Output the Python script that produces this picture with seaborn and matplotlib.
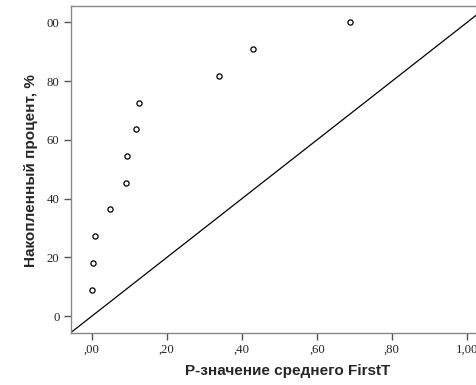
import matplotlib
matplotlib.use("Agg")
import matplotlib.pyplot as plt
import seaborn as sns
import pandas as pd

p_values = [0.000, 0.003, 0.009, 0.049, 0.092, 0.094, 0.119, 0.127, 0.340, 0.429, 0.689]
cum_percent = [9.09, 18.18, 27.27, 36.36, 45.45, 54.55, 63.64, 72.73, 81.82, 90.91, 100.0]
x_ticks = [0.0, 0.2, 0.4, 0.6, 0.8, 1.0]
x_tick_labels = [",00", ",20", ",40", ",60", ",80", "1,00"]
y_ticks = [0, 20, 40, 60, 80, 100]
y_tick_labels = ["0", "20", "40", "60", "80", "00"]
ref_line = [-0.056, 1.056]

df = pd.DataFrame({"p": p_values, "cum": cum_percent})

sns.set_style("white")
fig = plt.figure(figsize=(4.76, 3.85), dpi=100)
W, H = 476, 385
left, right, top, bottom = 70.7, 488.0, 6.0, 332.7
ax = fig.add_axes([left / W, 1 - bottom / H, (right - left) / W, (bottom - top) / H])

sns.lineplot(x=ref_line, y=[v * 100 for v in ref_line], ax=ax, color="black", linewidth=0.9)
sns.scatterplot(data=df, x="p", y="cum", ax=ax, marker="o", s=14,
                facecolor="white", edgecolor="black", linewidth=0.9, zorder=3)

ax.set_xlim(-0.056, 1.056)
ax.set_ylim(-5.6, 105.6)
ax.set_xticks(x_ticks)
ax.set_xticklabels(x_tick_labels, fontfamily="Liberation Serif", fontsize=9.2)
ax.set_yticks(y_ticks)
ax.set_yticklabels(y_tick_labels, fontfamily="Liberation Serif", fontsize=9.2)
ax.tick_params(axis="both", direction="out", length=5, width=1.0, color="#555555",
               left=True, bottom=True, pad=3)
for side in ["left", "bottom", "top", "right"]:
    ax.spines[side].set_color("#888888")
    ax.spines[side].set_linewidth(1.0)

ax.set_xlabel("P-значение среднего FirstT", fontfamily="Liberation Sans", fontweight="bold",
              fontsize=11)
ax.set_ylabel("Накопленный процент, %", fontfamily="Liberation Sans", fontweight="bold",
              fontsize=11)
ax.xaxis.set_label_coords((288 - left) / (right - left), -(364 - bottom) / (bottom - top))
ax.yaxis.set_label_coords(-(left - 38) / (right - left), (bottom - 171) / (bottom - top))

fig.savefig("out.png", dpi=100)
